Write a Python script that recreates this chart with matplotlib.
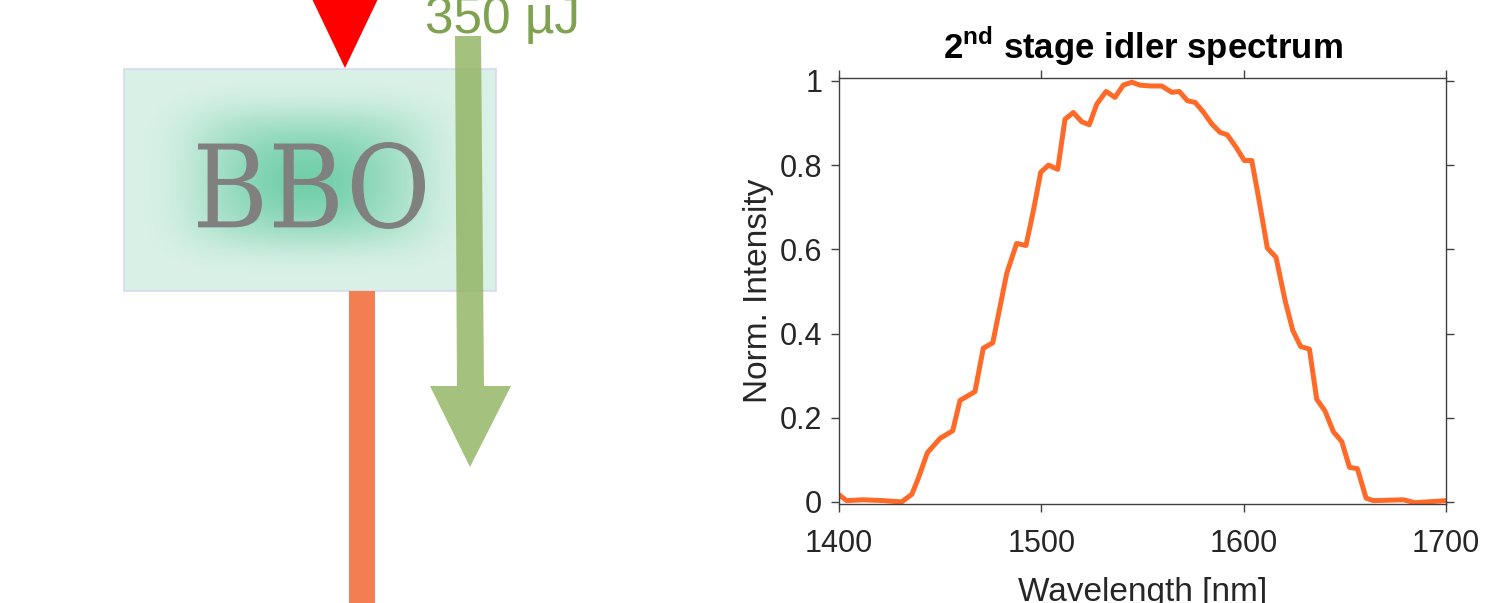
import numpy as np
import matplotlib
matplotlib.use("Agg")
import matplotlib.pyplot as plt
from matplotlib.patches import Polygon, Rectangle, PathPatch
from matplotlib.textpath import TextPath
from matplotlib.font_manager import FontProperties
from matplotlib.transforms import Affine2D
from matplotlib.ticker import FuncFormatter

plt.rcParams['font.family'] = ['Liberation Sans', 'DejaVu Sans']
plt.rcParams['mathtext.fontset'] = 'custom'
plt.rcParams['mathtext.rm'] = 'Liberation Sans'
plt.rcParams['mathtext.bf'] = 'Liberation Sans:bold'

# idler spectrum
wavelength = [1400, 1403.8, 1412, 1422, 1431, 1436, 1439.2, 1443.7, 1450, 1456.2,
              1459.8, 1467.2, 1471.3, 1476, 1482.9, 1487.8, 1492.4, 1496, 1499.7,
              1503.5, 1508.1, 1511.7, 1515.8, 1520, 1523.7, 1527.4, 1532, 1536.4,
              1540.5, 1544.7, 1548.8, 1554, 1559.5, 1564.5, 1568.2, 1572.2, 1576,
              1580.1, 1584.2, 1588.3, 1591.9, 1596.2, 1600.3, 1604, 1607.3, 1611.7,
              1616, 1620.5, 1624.3, 1628.2, 1632.5, 1636.1, 1640.2, 1644.3, 1648.5,
              1652.3, 1656.2, 1660.5, 1664.1, 1679, 1684.7, 1700]
intensity = [0.017, 0.003, 0.005, 0.003, 0.0, 0.018, 0.056, 0.117, 0.151, 0.169,
             0.241, 0.262, 0.365, 0.378, 0.543, 0.614, 0.609, 0.690, 0.783,
             0.800, 0.790, 0.909, 0.925, 0.903, 0.896, 0.945, 0.975, 0.961,
             0.990, 0.997, 0.990, 0.988, 0.988, 0.973, 0.975, 0.953, 0.949,
             0.926, 0.898, 0.878, 0.872, 0.843, 0.811, 0.811, 0.725, 0.603,
             0.581, 0.478, 0.407, 0.369, 0.363, 0.244, 0.216, 0.167, 0.143,
             0.082, 0.079, 0.009, 0.003, 0.005, -0.002, 0.003]
x_ticks = [1400, 1500, 1600, 1700]
y_ticks = [0, 0.2, 0.4, 0.6, 0.8, 1]

# diagram pieces (pixel coords of the sketch on the left)
W, H = 1491, 603
box = (124, 69, 496, 291)            # x0, y0, x1, y1
bbo_label = (198, 142, 425, 229)     # where the crystal name sits
pump_tip = [(303, -20), (387, -20), (345, 68)]
green_arrow = [(455, 36), (481, 36), (484, 386), (511, 386), (470, 467),
               (430, 386), (457, 386)]
idler_bar = (349, 291, 26, 330)

fig = plt.figure(figsize=(W / 100, H / 100), dpi=100)

# --- sketch ---
ax0 = fig.add_axes([0, 0, 1, 1])
ax0.set_xlim(0, W)
ax0.set_ylim(H, 0)
ax0.axis('off')

# crystal with soft glow in the middle
gx = np.linspace(box[0], box[2], 300)
gy = np.linspace(box[1], box[3], 180)
XX, YY = np.meshgrid(gx, gy)
glow = np.exp(-((XX - 308) / 120) ** 4) * np.exp(-((YY - 178) / 70) ** 4)
glow = 0.45 * glow + 0.3 * np.exp(-((XX - 308) / 70) ** 2 - ((YY - 180) / 45) ** 2)
glow = np.clip(glow, 0, 1)
edge = np.array([218, 241, 231]) / 255
core = np.array([80, 196, 150]) / 255
img = edge[None, None, :] * (1 - glow[..., None]) + core[None, None, :] * glow[..., None]
ax0.imshow(img, extent=(box[0], box[2], box[3], box[1]), aspect='auto', zorder=1)
ax0.add_patch(Rectangle((box[0], box[1]), box[2] - box[0], box[3] - box[1],
                        fill=False, ec='#d8d8f2', lw=1.2, zorder=2))

# "BBO" as a path, stretched into the box it takes in the sketch
tp = TextPath((0, 0), 'BBO', size=100, prop=FontProperties(family='DejaVu Serif'))
ext = tp.get_extents()
sx = (bbo_label[2] - bbo_label[0]) / ext.width
sy = (bbo_label[3] - bbo_label[1]) / ext.height
tr = Affine2D().scale(sx, -sy).translate(bbo_label[0] - ext.x0 * sx,
                                          bbo_label[3] + ext.y0 * sy)
ax0.add_patch(PathPatch(tr.transform_path(tp), fc='#808080', ec='none', zorder=3))

ax0.add_patch(Polygon(pump_tip, closed=True, fc='#ff0000', ec='none', zorder=3))
ax0.add_patch(Rectangle(idler_bar[:2], idler_bar[2], idler_bar[3], fc='#f27e52',
                        ec='none', zorder=3))
ax0.add_patch(Polygon(green_arrow, closed=True, fc='#8cb05a', ec='none',
                      alpha=0.78, zorder=4))
ax0.text(425, 33, '350 µJ', fontsize=37, color='#7ea250', ha='left',
         va='baseline', zorder=5)

# --- spectrum ---
ax = fig.add_axes([839 / W, 1 - 504 / H, (1446 - 839) / W, (504 - 78) / H])
ax.plot(wavelength, intensity, color='#ff6a28', lw=3.6, solid_joinstyle='round')
ax.set_xlim(1400, 1700)
ax.set_ylim(-0.005, 1.007)
ax.set_xticks(x_ticks)
ax.set_yticks(y_ticks)
ax.yaxis.set_major_formatter(FuncFormatter(lambda v, p: f'{v:g}'))
ax.tick_params(direction='out', length=6, width=1, color='#404040',
               labelsize=22, labelcolor='#262626', top=True, right=True,
               labeltop=False, labelright=False)
ax.tick_params(axis='x', pad=12)
ax.tick_params(axis='y', pad=6)
for s in ax.spines.values():
    s.set_color('#404040')
    s.set_linewidth(1.0)

ax.set_title(r'2$^{\mathbf{nd}}$ stage idler spectrum', fontsize=25,
             fontweight='bold', pad=14)
ax.set_xlabel('Wavelength [nm]', fontsize=24, color='#262626', labelpad=13)
ax.set_ylabel('Norm. Intensity', fontsize=24, color='#262626', labelpad=4)

fig.savefig('out.png', dpi=100)
